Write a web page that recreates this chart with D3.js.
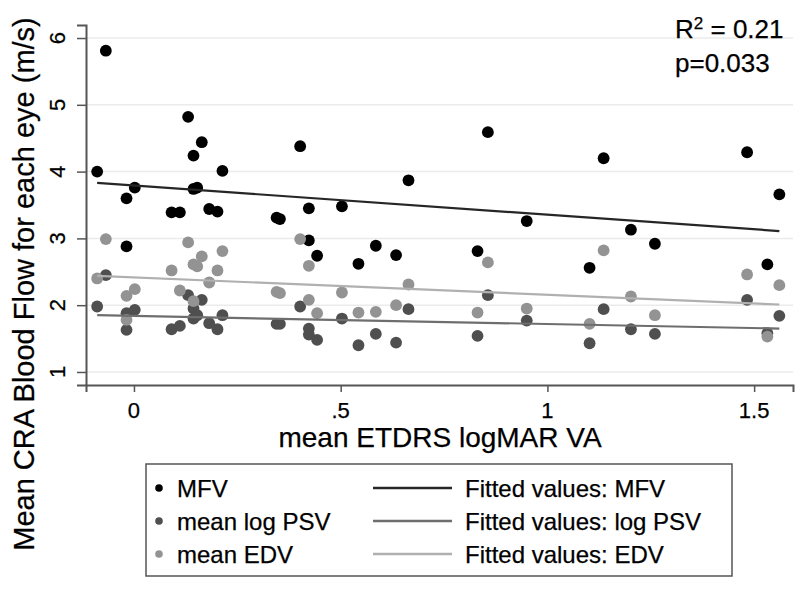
<!DOCTYPE html>
<html><head><meta charset="utf-8">
<script src="https://cdn.jsdelivr.net/npm/d3@7"></script>
<style>
body{margin:0;background:#fff;}
text{font-family:"Liberation Sans",Arial,sans-serif;fill:#000;stroke:#000;stroke-width:0.25px;}
</style></head>
<body>
<svg id="c" width="800" height="589"></svg>
<script>
// ---- data ----
const va  = [-0.089,-0.068,-0.018,-0.018,0.002,0.091,0.111,0.131,0.144,0.144,0.153,0.164,0.182,0.202,0.214,0.345,0.353,0.402,0.423,0.423,0.443,0.503,0.543,0.585,0.634,0.664,0.831,0.856,0.95,1.102,1.136,1.202,1.26,1.483,1.532,1.561];
const mfv = [4.00,5.81,3.60,2.88,3.76,3.39,3.39,4.82,4.24,3.74,3.76,4.44,3.44,3.40,4.01,3.31,3.29,4.38,3.45,2.97,2.74,3.48,2.62,2.89,2.75,3.87,2.81,4.59,3.26,2.56,4.20,3.13,2.92,4.29,2.61,3.66];
const psv = [1.98,2.45,1.88,1.63,1.93,1.64,1.69,2.15,1.95,1.80,1.85,2.08,1.73,1.64,1.85,1.72,1.72,1.98,1.65,1.56,1.48,1.80,1.40,1.57,1.44,1.94,1.54,2.15,1.77,1.43,1.94,1.64,1.57,2.08,1.58,1.84];
const edv = [2.40,2.99,2.14,1.78,2.24,2.52,2.22,2.94,2.61,2.06,2.58,2.73,2.34,2.52,2.81,2.20,2.18,2.99,2.59,2.08,1.88,2.19,1.89,1.90,2.00,2.31,1.89,2.64,1.95,1.72,2.82,2.13,1.85,2.46,1.53,2.30];
// fitted values at min and max VA
const fitMFV = [3.83, 3.11];
const fitPSV = [1.85, 1.65];
const fitEDV = [2.44, 2.01];
const seriesNames = ["MFV","mean log PSV","mean EDV"];
const fitNames = ["Fitted values: MFV","Fitted values: log PSV","Fitted values: EDV"];
const xTicks = [0, 0.5, 1, 1.5];
const xTickLabels = ["0", ".5", "1", "1.5"];
const yTicks = [1,2,3,4,5,6];

// ---- drawing ----
const svg = d3.select("#c");
const x = d3.scaleLinear().domain([-0.116, 1.594]).range([86, 793]);
const y = d3.scaleLinear().domain([0.805, 6.195]).range([385, 25]);
const dotColors = ["#000000", "#4f4f4f", "#939393"];
const lineColors = ["#262626", "#6e6e6e", "#b0b0b0"];

// gridlines
svg.append("g").selectAll("line").data(yTicks).join("line")
  .attr("x1", 86).attr("x2", 793).attr("y1", d => y(d)).attr("y2", d => y(d))
  .attr("stroke", "#ebebeb").attr("stroke-width", 1.5);

// axes
const yAxis = svg.append("g").attr("transform", "translate(86,0)")
  .call(d3.axisLeft(y).tickValues(yTicks).tickSize(9).tickFormat(""));
const xAxis = svg.append("g").attr("transform", "translate(0,385)")
  .call(d3.axisBottom(x).tickValues(xTicks).tickSize(7).tickFormat(""));
[yAxis, xAxis].forEach(g => {
  g.select(".domain").attr("stroke", "#555").attr("stroke-width", 2);
  g.selectAll(".tick line").attr("stroke", "#555").attr("stroke-width", 1.5);
});
// y tick labels rotated
svg.append("g").selectAll("text").data(yTicks).join("text")
  .attr("transform", d => `translate(65,${y(d)}) rotate(-90)`)
  .attr("text-anchor", "middle").attr("font-size", 22).text(d => d);
// x tick labels
svg.append("g").selectAll("text").data(xTicks).join("text")
  .attr("x", d => x(d)).attr("y", 418).attr("text-anchor", "middle")
  .attr("font-size", 22).text((d, i) => xTickLabels[i]);

// titles
svg.append("text").attr("x", 440).attr("y", 447).attr("text-anchor", "middle")
  .attr("font-size", 28).text("mean ETDRS logMAR VA");
svg.append("text").attr("transform", "translate(34,284) rotate(-90)")
  .attr("text-anchor", "middle").attr("font-size", 29)
  .text("Mean CRA Blood Flow for each eye (m/s)");

// points
const series = [mfv, psv, edv];
series.forEach((vals, si) => {
  svg.append("g").selectAll("circle").data(vals).join("circle")
    .attr("cx", (d, i) => x(va[i])).attr("cy", d => y(d)).attr("r", 5.9)
    .attr("fill", dotColors[si]);
});

// fitted lines
const xMin = d3.min(va), xMax = d3.max(va);
[fitMFV, fitPSV, fitEDV].forEach((f, si) => {
  svg.append("line")
    .attr("x1", x(xMin)).attr("y1", y(f[0])).attr("x2", x(xMax)).attr("y2", y(f[1]))
    .attr("stroke", lineColors[si]).attr("stroke-width", 2.2);
});

// annotation
const ann = svg.append("text").attr("x", 675).attr("y", 38).attr("font-size", 26);
ann.append("tspan").text("R");
ann.append("tspan").attr("font-size", 17).attr("dy", -9).text("2");
ann.append("tspan").attr("dy", 9).text(" = 0.21");
svg.append("text").attr("x", 675).attr("y", 72).attr("font-size", 26).text("p=0.033");

// legend
svg.append("rect").attr("x", 146).attr("y", 464).attr("width", 586).attr("height", 112)
  .attr("fill", "none").attr("stroke", "#555").attr("stroke-width", 1.5);
const rowY = [488, 521, 554];
seriesNames.forEach((n, i) => {
  svg.append("circle").attr("cx", 159).attr("cy", rowY[i]).attr("r", 3.8).attr("fill", dotColors[i]);
  svg.append("text").attr("x", 177).attr("y", rowY[i] + 8.5).attr("font-size", 24).text(n);
});
fitNames.forEach((n, i) => {
  svg.append("line").attr("x1", 373).attr("x2", 452).attr("y1", rowY[i]).attr("y2", rowY[i])
    .attr("stroke", lineColors[i]).attr("stroke-width", 2.5);
  svg.append("text").attr("x", 465).attr("y", rowY[i] + 8.5).attr("font-size", 24).text(n);
});
</script>
</body></html>
